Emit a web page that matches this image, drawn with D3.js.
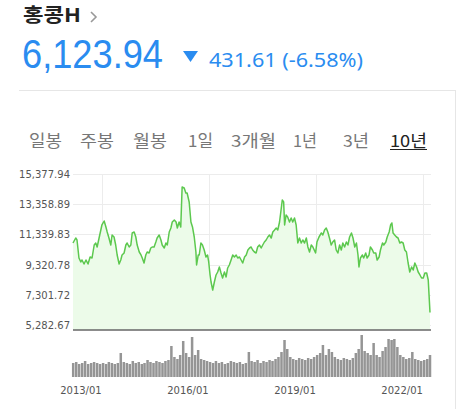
<!DOCTYPE html>
<html><head><meta charset="utf-8">
<script src="https://cdn.jsdelivr.net/npm/d3@7"></script>
<style>body{margin:0;background:#fff;}svg{display:block;}</style>
</head><body>
<svg id="c" width="457" height="409"></svg>
<script>
const title = "홍콩H";
const lastPrice = "6,123.94";
const change = "431.61 (-6.58%)";
const tabs = ["일봉","주봉","월봉","1일","3개월","1년","3년","10년"];
const activeTab = "10년";

const dates = ["2012-03-13","2012-04-10","2012-04-23","2012-05-13","2012-06-01","2012-06-13","2012-07-04","2012-07-24","2012-08-14","2012-09-04","2012-09-24","2012-10-16","2012-11-01","2012-11-15","2012-12-05",
"2013-01-03","2013-01-26","2013-02-13","2013-02-26","2013-03-16","2013-04-04","2013-04-17","2013-05-07","2013-05-24","2013-06-08","2013-06-28","2013-07-15","2013-07-28","2013-08-18","2013-09-05","2013-09-18","2013-10-09","2013-10-26","2013-11-09","2013-11-29","2013-12-16","2013-12-30",
"2014-01-20","2014-02-07","2014-02-20","2014-03-10","2014-03-28","2014-04-11","2014-05-01","2014-05-18","2014-06-01","2014-06-21","2014-07-09","2014-07-22","2014-08-12","2014-08-30","2014-09-12","2014-10-03","2014-10-20","2014-11-03","2014-11-23","2014-12-10","2014-12-24",
"2015-01-14","2015-02-01","2015-02-14","2015-03-04","2015-03-21","2015-04-04","2015-04-25","2015-05-12","2015-05-25","2015-06-15","2015-07-03","2015-07-19","2015-08-06","2015-08-23","2015-08-30","2015-09-16","2015-09-26","2015-10-13","2015-10-29","2015-11-16","2015-12-04","2015-12-20",
"2016-01-01","2016-01-15","2016-01-25","2016-02-11","2016-02-28","2016-03-16","2016-04-02","2016-04-19","2016-05-06","2016-05-22","2016-06-10","2016-06-27","2016-07-13","2016-07-30","2016-08-17","2016-09-03","2016-09-20","2016-10-08","2016-10-24","2016-11-11","2016-11-28","2016-12-14",
"2017-01-02","2017-01-19","2017-02-05","2017-02-22","2017-03-10","2017-03-26","2017-04-13","2017-04-30","2017-05-16","2017-06-03","2017-06-21","2017-07-07","2017-07-24","2017-08-11","2017-08-28","2017-09-14","2017-10-02","2017-10-18","2017-11-05","2017-11-22","2017-12-08","2017-12-26",
"2018-01-13","2018-01-23","2018-02-06","2018-02-16","2018-03-03","2018-03-19","2018-04-07","2018-04-24","2018-05-10","2018-05-28","2018-06-14","2018-07-01","2018-07-18","2018-08-05","2018-08-21","2018-09-08","2018-09-26","2018-10-12","2018-10-29","2018-11-16","2018-12-02","2018-12-30",
"2019-01-13","2019-02-03","2019-02-27","2019-03-14","2019-04-01","2019-04-18","2019-05-04","2019-05-21","2019-06-08","2019-06-24","2019-07-12","2019-07-29","2019-08-15","2019-09-02","2019-09-19","2019-10-05","2019-10-23","2019-11-10","2019-11-26","2019-12-13",
"2020-01-01","2020-01-17","2020-02-04","2020-02-21","2020-03-08","2020-03-18","2020-04-02","2020-04-22","2020-05-05","2020-05-26","2020-06-09","2020-06-29","2020-07-13","2020-08-03","2020-08-16","2020-09-06","2020-09-20","2020-10-10","2020-10-24","2020-11-14","2020-11-27","2020-12-18",
"2021-01-01","2021-01-21","2021-02-05","2021-02-18","2021-03-02","2021-03-19","2021-04-06","2021-04-22","2021-05-10","2021-05-27","2021-06-13","2021-06-30","2021-07-17","2021-08-03","2021-08-20","2021-09-08","2021-09-24","2021-10-11","2021-10-29","2021-11-14","2021-12-02","2021-12-19",
"2022-01-05","2022-01-22","2022-02-09","2022-02-25","2022-03-15"];

const prices = [10765,11099,10966,9762,9495,9629,9361,9629,9361,9829,9762,10631,10765,10498,11099,
11969,12236,11835,11501,11099,10631,11300,11166,10631,9963,9361,9629,9963,10097,10631,10765,10498,10631,11434,11501,11166,10631,
10163,9963,9762,9428,9963,10163,10097,10431,10498,10498,10832,11099,11300,10966,10631,10431,10765,10631,11501,11768,12169,
12303,12169,11768,12169,11835,14509,14442,14108,14108,13506,12169,11835,11166,10163,9294,9963,9963,10765,10631,10297,9829,9963,
9495,8626,8158,7623,8158,8626,8826,9161,8759,8425,8826,8492,9094,9294,9629,9963,9829,9963,9762,9829,9629,9428,
9829,9963,10297,10431,10498,10297,10163,10097,10498,10631,10431,10631,10832,10966,11166,11300,11099,11501,11634,11768,11634,12169,
13105,13640,13506,11969,12637,12504,12169,12437,12169,12437,11969,10765,11099,10765,10966,10765,11099,10498,10163,10631,10498,10097,
10832,11166,11434,11300,11634,11768,11501,11099,10631,10832,10966,10297,10097,10631,10297,10765,10498,10832,10631,11166,
11434,11099,10498,10765,9963,9161,9762,9963,9762,10097,9762,9963,10498,10297,10097,10097,9629,9829,10297,10765,10631,10832,
11166,11501,11969,12102,11434,11300,11166,11099,10765,10832,10765,10297,10163,9428,8826,9161,8960,9428,9161,8826,8626,8425,
8425,8759,8759,8291,6123.94];

// monthly volume (relative units), 2012-03 .. 2022-03
const volumeStart = "2012-03-15";
const volumes = [14,15,13,14,16,13,14,15,14,13,14,13,15,14,13,14,24,15,14,13,16,14,15,13,14,17,15,14,16,15,14,16,17,
31,20,18,22,36,24,20,40,22,27,18,17,16,15,14,16,14,15,13,14,16,15,14,15,13,14,25,16,15,17,14,16,15,17,16,18,20,25,37,28,
20,18,17,19,18,17,19,18,20,22,24,32,22,28,25,20,18,17,19,18,17,19,24,28,42,26,24,22,34,22,20,26,30,38,37,38,30,22,20,18,19,25,18,17,16,17,18,22];

const yTicks = [5282.67,7301.72,9320.78,11339.83,13358.89,15377.94];
const xTicks = ["2013-01-01","2016-01-01","2019-01-01","2022-01-01"];
const xTickLabels = ["2013/01","2016/01","2019/01","2022/01"];

const parse = d3.timeParse("%Y-%m-%d");
const data = dates.map((d,i)=>({date:parse(d), value:prices[i]}));
const svg = d3.select("#c");
const kr = "'Noto Sans CJK KR','Noto Sans',sans-serif";

// Header
svg.append("text").attr("x",23).attr("y",22).attr("font-family",kr).attr("font-weight",700)
  .attr("font-size",19).attr("fill","#222").attr("textLength",58).attr("lengthAdjust","spacingAndGlyphs").text(title);
svg.append("path").attr("d","M91,12 L96,17 L91,22").attr("fill","none").attr("stroke","#999").attr("stroke-width",1.6);
svg.append("text").attr("x",22).attr("y",68).attr("font-family","'Liberation Sans',Arial,sans-serif")
  .attr("font-size",40).attr("fill","#2a8cf0").attr("textLength",141).attr("lengthAdjust","spacingAndGlyphs").text(lastPrice);
svg.append("path").attr("d","M183,51 L198,51 L190.5,62 Z").attr("fill","#2a8cf0");
svg.append("text").attr("x",209).attr("y",67).attr("font-family","'Noto Sans',sans-serif")
  .attr("font-size",19.5).attr("fill","#2a8cf0").attr("textLength",154).attr("lengthAdjust","spacingAndGlyphs").text(change);

// Card border
svg.append("line").attr("x1",19).attr("x2",455).attr("y1",90.5).attr("y2",90.5).attr("stroke","#e6e6e6");
svg.append("line").attr("x1",455.5).attr("x2",455.5).attr("y1",90).attr("y2",409).attr("stroke","#e6e6e6");

// Tabs
const tabX = [29,80,133,188,231,293,343,390];
const tabW = [33,34,34,25,45,24,26,37];
tabs.forEach((t,i)=>{
  const act = t===activeTab;
  svg.append("text").attr("x",tabX[i]).attr("y",147).attr("font-family",kr).attr("font-size",16.5)
    .attr("fill",act?"#222":"#777").attr("textLength",tabW[i]).attr("lengthAdjust","spacingAndGlyphs").text(t);
  if(act) svg.append("line").attr("x1",tabX[i]).attr("x2",tabX[i]+tabW[i]).attr("y1",149.5).attr("y2",149.5)
    .attr("stroke","#222").attr("stroke-width",1);
});

// Scales
const x = d3.scaleTime().domain([parse("2012-03-13"), parse("2022-03-15")]).range([73,430]);
const y = d3.scaleLinear().domain([5282.67,15377.94]).range([325,174]);
const plotBottom = 330, plotRight = 431;

// grid
svg.append("g").selectAll("line").data(yTicks).join("line")
  .attr("x1",73).attr("x2",plotRight).attr("y1",d=>Math.round(y(d))+0.5).attr("y2",d=>Math.round(y(d))+0.5)
  .attr("stroke","#ececec");
svg.append("g").selectAll("line").data(xTicks).join("line")
  .attr("x1",d=>Math.round(x(parse(d)))+0.5).attr("x2",d=>Math.round(x(parse(d)))+0.5)
  .attr("y1",174).attr("y2",plotBottom).attr("stroke","#ececec");

// y labels
svg.append("g").selectAll("text").data(yTicks).join("text")
  .attr("x",70).attr("y",d=>y(d)+4).attr("text-anchor","end")
  .attr("font-family","'DejaVu Sans',sans-serif").attr("font-size",10).attr("fill","#555")
  .text(d=>d3.format(",.2f")(d));

// area + line
const area = d3.area().x(d=>x(d.date)).y0(plotBottom).y1(d=>y(d.value));
svg.append("path").datum(data).attr("d",area).attr("fill","#ecfbe9");
const line = d3.line().x(d=>x(d.date)).y(d=>y(d.value));
svg.append("path").datum(data).attr("d",line).attr("fill","none").attr("stroke","#5cc84e")
  .attr("stroke-width",1.5).attr("stroke-linejoin","round");

// bottom axis line
svg.append("line").attr("x1",73).attr("x2",plotRight).attr("y1",330).attr("y2",330).attr("stroke","#666").attr("stroke-width",1.5);

// volume
const v0 = parse(volumeStart);
const yv = d3.scaleLinear().domain([0,42]).range([377,335]);
svg.append("g").selectAll("rect").data(volumes).join("rect")
  .attr("x",(d,i)=>x(d3.timeMonth.offset(v0,i))-1.25).attr("width",2.5)
  .attr("y",d=>yv(d)).attr("height",d=>377-yv(d)).attr("fill","#959595");

// x labels
svg.append("g").selectAll("text").data(xTicks).join("text")
  .attr("x",d=>x(parse(d))).attr("y",394).attr("text-anchor","end")
  .attr("font-family","'DejaVu Sans',sans-serif").attr("font-size",10).attr("fill","#555")
  .text((d,i)=>xTickLabels[i]);
</script>
</body></html>
